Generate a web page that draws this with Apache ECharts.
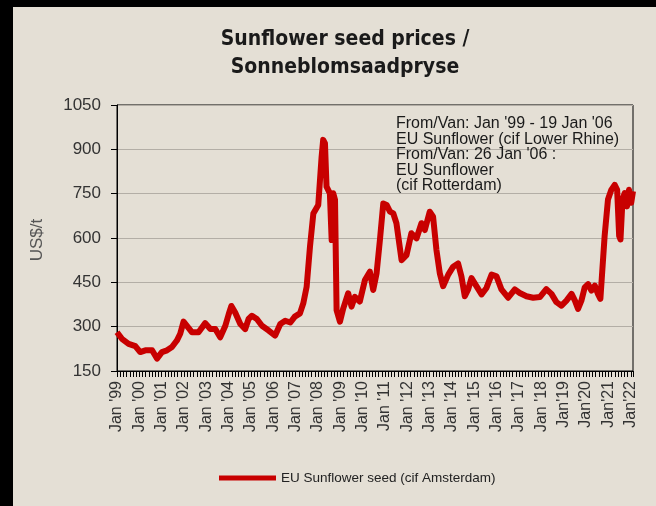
<!DOCTYPE html>
<html>
<head>
<meta charset="utf-8">
<script src="https://cdn.jsdelivr.net/npm/echarts@6/dist/echarts.min.js"></script>
<style>
html,body{margin:0;padding:0;background:#e4dfd5;}
#chart{width:656px;height:506px;}
</style>
</head>
<body>
<div id="chart"></div>
<script>
// Decimal years (time position of each reading)
var years = [
 1999.00,1999.22,1999.52,1999.82,2000.04,2000.27,2000.57,2000.79,2001.01,2001.24,
 2001.46,2001.68,2001.83,2001.98,2002.13,2002.36,2002.65,2002.95,2003.18,2003.40,
 2003.62,2003.85,2004.00,2004.12,2004.29,2004.52,2004.74,2004.89,2005.04,2005.26,
 2005.49,2005.79,2006.08,2006.31,2006.53,2006.76,2006.96,2007.19,2007.34,2007.49,
 2007.64,2007.79,2008.01,2008.16,2008.23,2008.31,2008.38,2008.53,2008.61,2008.68,
 2008.76,2008.83,2008.98,2009.13,2009.35,2009.50,2009.65,2009.87,2010.10,2010.32,
 2010.47,2010.62,2010.77,2010.92,2011.07,2011.22,2011.37,2011.51,2011.74,2011.96,
 2012.18,2012.41,2012.63,2012.78,2013.00,2013.15,2013.30,2013.45,2013.60,2013.83,
 2014.05,2014.27,2014.42,2014.57,2014.72,2014.87,2015.09,2015.32,2015.54,2015.77,
 2015.99,2016.21,2016.51,2016.81,2017.03,2017.33,2017.63,2017.93,2018.22,2018.45,
 2018.67,2018.90,2019.12,2019.35,2019.50,2019.64,2019.79,2019.94,2020.09,2020.24,
 2020.39,2020.53,2020.64,2020.73,2020.83,2020.98,2021.13,2021.28,2021.39,2021.48,
 2021.54,2021.63,2021.73,2021.83,2021.92,2022.02,2022.10
];
// EU Sunflower seed price, US$/t
var prices = [
 281,259,242,234,214,220,220,192,214,220,
 231,253,276,317,303,281,281,312,292,292,
 264,303,342,370,348,309,292,326,337,326,
 303,287,270,309,320,314,334,345,379,435,
 571,683,712,875,932,920,774,751,593,751,
 729,356,317,362,413,368,401,385,458,486,
 424,480,593,717,712,689,683,650,525,542,
 616,599,650,627,689,672,560,481,437,476,
 503,514,470,403,426,464,437,409,431,476,
 470,426,398,426,414,403,398,400,427,411,
 383,371,388,411,388,360,388,433,444,422,
 439,411,394,495,607,730,763,780,763,607,
 595,730,752,707,763,719,758
];
var tickYears = [1999,2000,2001,2002,2003,2004,2005,2006,2007,2008,2009,2010,2011,2012,2013,2014,2015,2016,2017,2018,2019,2020,2021,2022];
var tickLabels = ["Jan '99","Jan '00","Jan '01","Jan '02","Jan '03","Jan '04","Jan '05","Jan '06","Jan '07","Jan '08","Jan '09","Jan '10","Jan '11","Jan '12","Jan '13","Jan '14","Jan '15","Jan '16","Jan '17","Jan '18","Jan'19","Jan'20","Jan'21","Jan'22"];
var titleLines = ["Sunflower seed prices /","Sonneblomsaadpryse"];
var noteLines = ["From/Van: Jan '99 - 19 Jan '06","EU Sunflower (cif Lower Rhine)","From/Van: 26 Jan '06 :","EU Sunflower","(cif Rotterdam)"];
var seriesName = "EU Sunflower seed (cif Amsterdam)";
var yTitle = "US$/t";

var FONT = "'Liberation Sans', Arial, sans-serif";
var NARROW = "'Liberation Sans Narrow', 'Arial Narrow', 'DejaVu Sans Condensed', sans-serif";
var RED = '#c80000';

var chart = echarts.init(document.getElementById('chart'), null, {renderer:'canvas'});
var pts = years.map(function(y,i){return [y, prices[i]];});

var graphics = [
  {type:'rect', shape:{x:0,y:0,width:13,height:506}, style:{fill:'#000'}, z:100},
  {type:'rect', shape:{x:0,y:0,width:656,height:7}, style:{fill:'#000'}, z:100},
  {type:'text', x:345, y:40, style:{text:titleLines[0], font:"bold 21px " + NARROW, fill:'#1a1a1a', textAlign:'center', textVerticalAlign:'middle'}},
  {type:'text', x:345, y:68, style:{text:titleLines[1], font:"bold 21px " + NARROW, fill:'#1a1a1a', textAlign:'center', textVerticalAlign:'middle'}},
  {type:'text', x:37, y:240, rotation:Math.PI/2, style:{text:yTitle, font:"17px " + FONT, fill:'#555', textAlign:'center', textVerticalAlign:'middle'}}
];
noteLines.forEach(function(t,i){
  graphics.push({type:'text', x:396, y:124 + i*15.5, z:50, style:{text:t, font:"16px " + FONT, fill:'#1a1a1a', textAlign:'left', textVerticalAlign:'middle'}});
});

chart.setOption({
  animation:false,
  backgroundColor:'#e4dfd5',
  grid:{left:117, right:23, top:105, bottom:135, show:true, borderColor:'#000', borderWidth:1, backgroundColor:'transparent'},
  legend:{
    data:[seriesName], left:214, top:466, icon:'rect', itemWidth:57, itemHeight:5,
    textStyle:{fontFamily:FONT, fontSize:13.5, color:'#222'}
  },
  xAxis:{
    type:'value', min:1999, max:2022.1, interval:1,
    axisLine:{show:true, lineStyle:{color:'#000', width:1}},
    axisTick:{show:true, length:6, lineStyle:{color:'#000'}},
    minorTick:{show:true, splitNumber:7, length:6, lineStyle:{color:'#000'}},
    splitLine:{show:false},
    axisLabel:{
      rotate:90, margin:10, fontFamily:FONT, fontSize:16, color:'#333',
      formatter:function(v){
        var i = tickYears.indexOf(Math.round(v*1000)/1000);
        return i >= 0 ? tickLabels[i] : '';
      }
    }
  },
  yAxis:{
    type:'value', min:150, max:1050, interval:150,
    axisLine:{show:true, lineStyle:{color:'#000', width:1}},
    axisTick:{show:true, length:6, lineStyle:{color:'#000'}},
    splitLine:{show:true, lineStyle:{color:'#b3aea6', width:1}},
    axisLabel:{margin:16, fontFamily:FONT, fontSize:17, color:'#333', formatter:function(v){return String(v);}}
  },
  series:[{
    name:seriesName, type:'line', data:pts, showSymbol:false, symbol:'none',
    lineStyle:{color:RED, width:6, join:'round'}, itemStyle:{color:RED}, z:10
  }],
  graphic:graphics
});
</script>
</body>
</html>
